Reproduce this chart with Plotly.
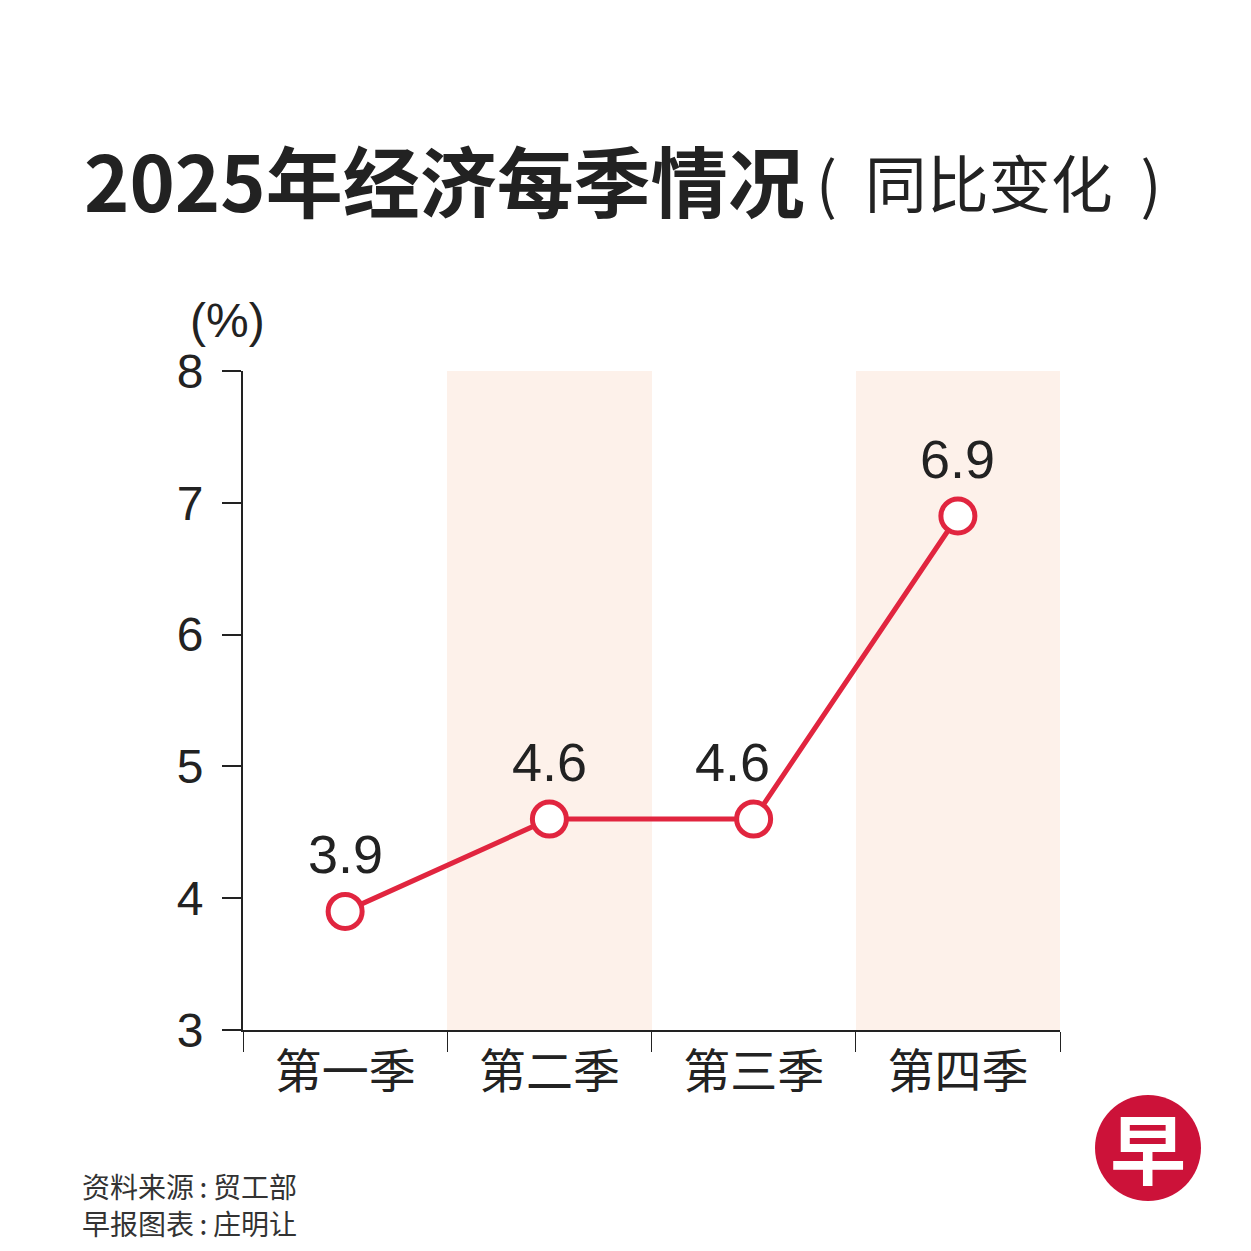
import plotly.graph_objects as go

# ─── Data ───
quarters = ["第一季", "第二季", "第三季", "第四季"]
growth = [3.9, 4.6, 4.6, 6.9]
shaded_quarters = ["第二季", "第四季"]
y_ticks = [3, 4, 5, 6, 7, 8]
y_min, y_max = 3, 8

title_main = "2025年经济每季情况"
title_sub = "(\u00a0 同比变化 \u00a0)"
unit_label = "(%)"
footer_lines = ["资料来源\u2009:\u2009贸工部", "早报图表\u2009:\u2009庄明让"]

# ─── Look ───
PAGE_PAD = 8                      # default body margin of the html page
W, H = 1251 - 2 * PAGE_PAD, 1251 - 2 * PAGE_PAD
PLOT_L, PLOT_R, PLOT_T, PLOT_B = 243, 1060, 371, 1030   # screen pixels
RED = "#e1253f"
BAND = "#fdf1ea"
INK = "#222222"
CJK = "Noto Sans CJK SC"
LATIN = "Liberation Sans, Arial, sans-serif"
label_nudge = {"第三季": -21}     # keep the label clear of the rising line


def px_x(px):
    return (px - PLOT_L) / (PLOT_R - PLOT_L)


def px_y(py):
    return (PLOT_B - py) / (PLOT_B - PLOT_T)


fig = go.Figure()

# shaded quarter bands
fig.add_trace(go.Bar(
    x=shaded_quarters,
    y=[y_max - y_min] * len(shaded_quarters),
    base=y_min,
    width=1,
    marker=dict(color=BAND, line=dict(width=0)),
    hoverinfo="skip",
    showlegend=False,
))

# growth line
fig.add_trace(go.Scatter(
    x=quarters,
    y=growth,
    mode="lines+markers",
    line=dict(color=RED, width=5),
    marker=dict(size=34, color="white", line=dict(color=RED, width=5)),
    showlegend=False,
))

annotations = []
for q, v in zip(quarters, growth):
    annotations.append(dict(
        x=q, y=v, text=f"{v:.1f}", showarrow=False,
        xshift=label_nudge.get(q, 0), yshift=57,
        font=dict(family=LATIN, size=54, color=INK),
    ))

# titles
annotations.append(dict(
    xref="paper", yref="paper", x=px_x(82), y=px_y(178),
    xanchor="left", yanchor="middle", showarrow=False,
    text=f"<b>{title_main}</b>",
    font=dict(family=CJK, size=77, color=INK),
))
annotations.append(dict(
    xref="paper", yref="paper", x=px_x(814), y=px_y(181),
    xanchor="left", yanchor="middle", showarrow=False,
    text=title_sub,
    font=dict(family=CJK, size=62, color=INK),
))
annotations.append(dict(
    xref="paper", yref="paper", x=px_x(227), y=px_y(320),
    xanchor="center", yanchor="middle", showarrow=False,
    text=unit_label,
    font=dict(family=LATIN, size=48, color=INK),
))

# footer
for i, line in enumerate(footer_lines):
    annotations.append(dict(
        xref="paper", yref="paper", x=px_x(80), y=px_y(1186 + i * 37),
        xanchor="left", yanchor="middle", showarrow=False,
        text=line,
        font=dict(family=CJK, size=28, color="#333333"),
    ))

# logo
annotations.append(dict(
    xref="paper", yref="paper", x=px_x(1148), y=px_y(1146),
    xanchor="center", yanchor="middle", showarrow=False,
    text="<b>早</b>",
    font=dict(family=CJK, size=76, color="white"),
))

fig.update_layout(
    width=W, height=H,
    margin=dict(l=PLOT_L - PAGE_PAD, r=W - (PLOT_R - PAGE_PAD),
                t=PLOT_T - PAGE_PAD, b=H - (PLOT_B - PAGE_PAD), pad=0),
    paper_bgcolor="white",
    plot_bgcolor="white",
    bargap=0,
    annotations=annotations,
    shapes=[dict(
        type="circle", xref="paper", yref="paper",
        x0=px_x(1095), x1=px_x(1201), y0=px_y(1095), y1=px_y(1201),
        fillcolor="#cc1239", line=dict(width=0), layer="above",
    )],
    xaxis=dict(
        type="category",
        categoryorder="array", categoryarray=quarters,
        range=[-0.5, len(quarters) - 0.5],
        showline=True, linecolor="#222222", linewidth=2,
        ticks="outside", ticklen=20, tickcolor="#222222", tickwidth=1,
        tickson="boundaries",
        showgrid=False, zeroline=False,
        tickfont=dict(family=CJK, size=47, color=INK),
    ),
    yaxis=dict(
        range=[y_min, y_max],
        tickvals=y_ticks,
        showline=True, linecolor="#222222", linewidth=2,
        ticks="outside", ticklen=19, tickcolor="#222222", tickwidth=1.5,
        showgrid=False, zeroline=False,
        ticklabelstandoff=9,
        tickfont=dict(family=LATIN, size=48, color=INK),
    ),
)

fig.write_html("out.html")
